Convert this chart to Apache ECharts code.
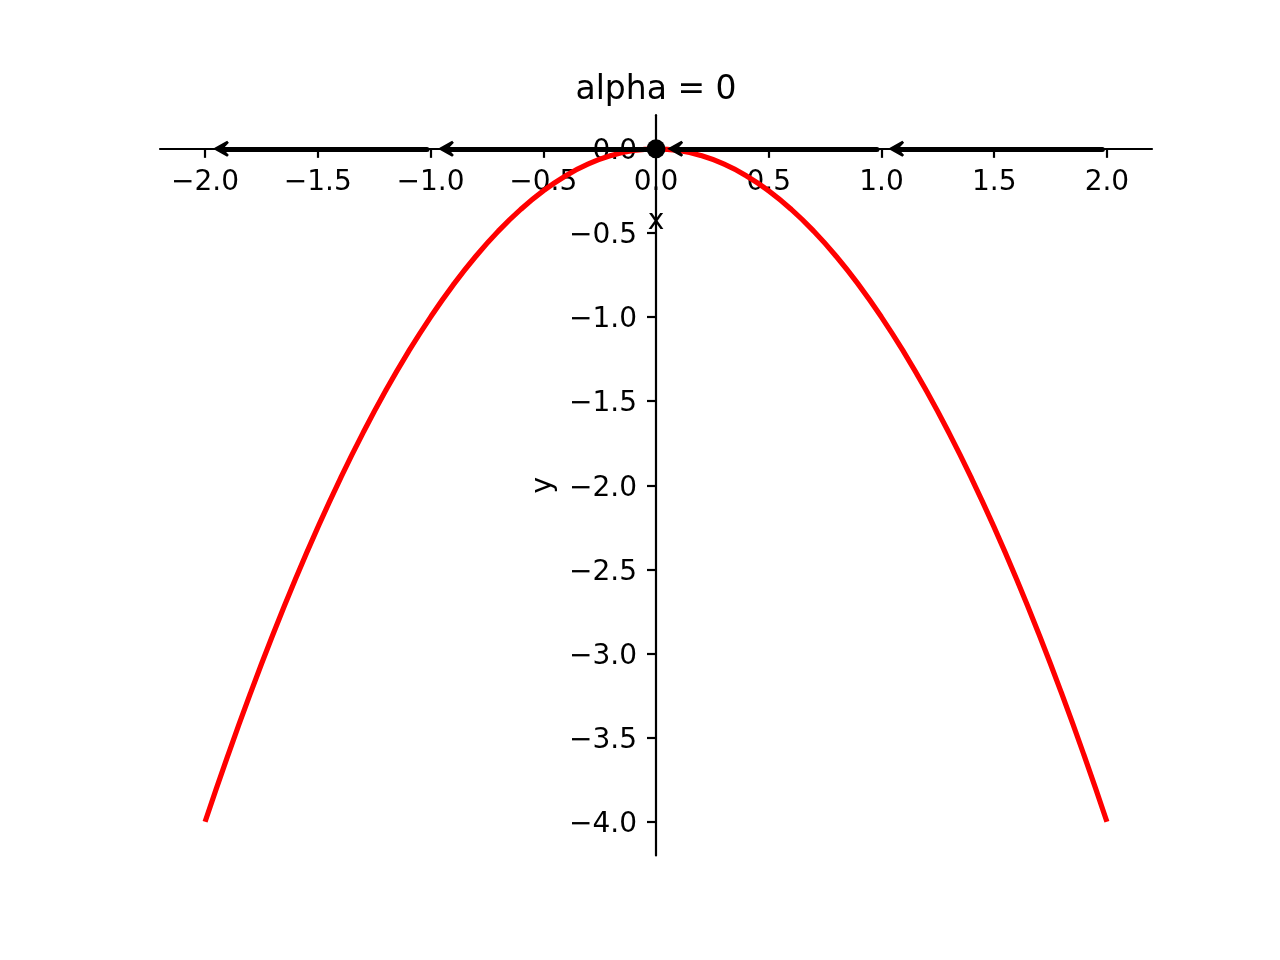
<!DOCTYPE html>
<html>
<head>
<meta charset="utf-8">
<script src="https://cdn.jsdelivr.net/npm/echarts@6/dist/echarts.min.js"></script>
<style>html,body{margin:0;padding:0;background:#fff}#chart{width:1280px;height:960px}</style>
</head>
<body>
<div id="chart"></div>
<script>
const titleText = 'alpha = 0';
const xTicks = [-2, -1.5, -1, -0.5, 0, 0.5, 1, 1.5, 2];
const yTicks = [0, -0.5, -1, -1.5, -2, -2.5, -3, -3.5, -4];
const curveX = [-2,-1.9,-1.8,-1.7,-1.6,-1.5,-1.4,-1.3,-1.2,-1.1,-1,-0.9,-0.8,-0.7,-0.6,-0.5,-0.4,-0.3,-0.2,-0.1,0,0.1,0.2,0.3,0.4,0.5,0.6,0.7,0.8,0.9,1,1.1,1.2,1.3,1.4,1.5,1.6,1.7,1.8,1.9,2];
const curveY = [-4,-3.61,-3.24,-2.89,-2.56,-2.25,-1.96,-1.69,-1.44,-1.21,-1,-0.81,-0.64,-0.49,-0.36,-0.25,-0.16,-0.09,-0.04,-0.01,0,-0.01,-0.04,-0.09,-0.16,-0.25,-0.36,-0.49,-0.64,-0.81,-1,-1.21,-1.44,-1.69,-1.96,-2.25,-2.56,-2.89,-3.24,-3.61,-4];
const arrowStartX = [1.98, 0.98, -0.02, -1.016];
const arrowEndX = [1.065, 0.085, -0.932, -1.93];
const arrowY = [0, 0, 0, 0];
const pointX = [0];
const pointY = [0];

const fmt = v => (v < 0 ? '\u2212' : '') + Math.abs(v).toFixed(1);
const FONT = 'DejaVu Sans';
const chevron = 'path://M7.5,0 L15,12.5 L13.3,14 L7.5,9 L1.7,14 L0,12.5 Z';

const GL = 160, GR = 128, GT = 115.2, GB = 104.6;
const W = 1280, H = 960;
const gw = W - GL - GR, gh = H - GT - GB;
// axis offsets so the spines pass through the origin
const xOff = -(gh * (0 - (-4.2)) / (0.2 - (-4.2)));
const yOff = -(gw * (0 - (-2.2)) / (2.2 - (-2.2)));

const chart = echarts.init(document.getElementById('chart'), null, {renderer: 'canvas'});
chart.setOption({
  animation: false,
  backgroundColor: '#ffffff',
  title: {
    text: titleText, left: 651, top: 69, textAlign: 'center',
    textStyle: {fontFamily: FONT, fontSize: 33, fontWeight: 'normal', color: '#000'}
  },
  grid: {left: GL, right: GR, top: GT, bottom: GB, containLabel: false},
  xAxis: {
    type: 'value', min: -2.2, max: 2.2, position: 'bottom', offset: xOff,
    name: 'x', nameLocation: 'middle', nameGap: 59,
    nameTextStyle: {fontFamily: FONT, fontSize: 28, color: '#000'},
    axisLine: {onZero: false, lineStyle: {color: '#000', width: 2.2}},
    axisTick: {show: true, length: 9, lineStyle: {color: '#000', width: 2.2}, customValues: xTicks},
    axisLabel: {fontFamily: FONT, fontSize: 28, color: '#000', margin: 20, formatter: fmt, customValues: xTicks},
    splitLine: {show: false}
  },
  yAxis: {
    type: 'value', min: -4.2, max: 0.2, position: 'left', offset: yOff,
    name: 'y', nameLocation: 'middle', nameGap: 96, nameRotate: 90,
    nameTextStyle: {fontFamily: FONT, fontSize: 28, color: '#000'},
    axisLine: {onZero: false, lineStyle: {color: '#000', width: 2.2}},
    axisTick: {show: true, length: 9, lineStyle: {color: '#000', width: 2.2}, customValues: yTicks},
    axisLabel: {fontFamily: FONT, fontSize: 28, color: '#000', margin: 19, verticalAlign: 'top', lineHeight: 6, formatter: fmt, customValues: yTicks},
    splitLine: {show: false}
  },
  series: [
    {
      type: 'line', data: curveX.map((x, i) => [x, curveY[i]]),
      showSymbol: false, smooth: true, z: 2,
      lineStyle: {color: '#ff0000', width: 5.2}
    },
    {
      type: 'lines', coordinateSystem: 'cartesian2d', z: 4,
      symbol: ['none', chevron], symbolSize: [16, 16],
      lineStyle: {color: '#000', width: 5, opacity: 1, cap: 'round'},
      itemStyle: {color: '#000', opacity: 1},
      data: arrowStartX.map((s, i) => ({coords: [[s, arrowY[i]], [arrowEndX[i], arrowY[i]]]}))
    },
    {
      type: 'scatter', data: pointX.map((x, i) => [x, pointY[i]]), z: 5,
      symbol: 'circle', symbolSize: 19, itemStyle: {color: '#000', opacity: 1}
    }
  ]
});
</script>
</body>
</html>
